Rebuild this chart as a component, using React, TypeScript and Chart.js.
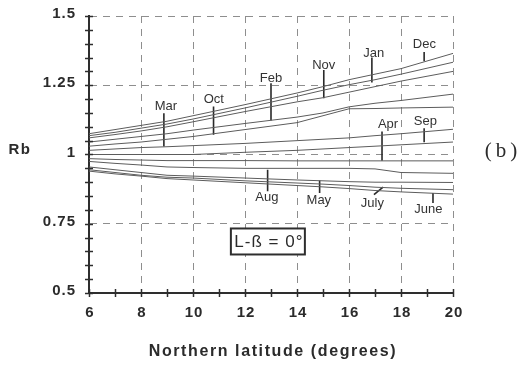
import React, { useEffect, useRef } from "react";
import { Chart, registerables } from "chart.js";

Chart.register(...registerables);

// Northern latitude (degrees) at which each curve is read
const latitude = [6, 7, 8, 9, 10, 12, 14, 15, 16, 17, 18, 20];

// Month curves (Rb) for L - beta = 0
const months = ["Dec", "Jan", "Nov", "Feb", "Oct", "Mar", "Sep", "Apr", "Aug", "May", "July", "June"];
const rbDec = [1.075, 1.09, 1.105, 1.12, 1.14, 1.18, 1.222, 1.245, 1.27, 1.29, 1.31, 1.365];
const rbJan = [1.068, 1.08, 1.095, 1.11, 1.128, 1.168, 1.21, 1.232, 1.252, 1.27, 1.29, 1.333];
const rbNov = [1.06, 1.072, 1.085, 1.1, 1.118, 1.155, 1.19, 1.205, 1.225, 1.245, 1.265, 1.3];
const rbFeb = [1.045, 1.055, 1.065, 1.075, 1.088, 1.112, 1.135, 1.15, 1.172, 1.185, 1.195, 1.218];
const rbOct = [1.03, 1.038, 1.045, 1.055, 1.065, 1.09, 1.115, 1.14, 1.165, 1.166, 1.168, 1.171];
const rbMar = [1.015, 1.02, 1.025, 1.028, 1.032, 1.04, 1.05, 1.055, 1.06, 1.068, 1.075, 1.091];
const rbSep = [1.0, 1.0, 1.0, 1.0, 1.0, 1.008, 1.015, 1.02, 1.025, 1.03, 1.035, 1.045];
const rbApr = [0.985, 0.982, 0.98, 0.978, 0.978, 0.978, 0.977, 0.977, 0.977, 0.977, 0.977, 0.977];
const rbAug = [0.975, 0.968, 0.962, 0.955, 0.953, 0.95, 0.95, 0.95, 0.95, 0.948, 0.935, 0.932];
const rbMay = [0.955, 0.945, 0.935, 0.925, 0.922, 0.915, 0.908, 0.905, 0.902, 0.9, 0.9, 0.899];
const rbJuly = [0.945, 0.935, 0.925, 0.918, 0.915, 0.905, 0.897, 0.893, 0.888, 0.882, 0.878, 0.873];
const rbJune = [0.94, 0.93, 0.922, 0.913, 0.908, 0.898, 0.888, 0.883, 0.877, 0.87, 0.865, 0.857];

// Month label anchors (data coordinates)
const labelX = [18.9, 16.95, 15.03, 13.0, 10.8, 8.96, 18.94, 17.5, 12.84, 14.84, 16.9, 19.05];
const labelY = [1.397, 1.364, 1.323, 1.276, 1.2, 1.175, 1.121, 1.11, 0.845, 0.833, 0.822, 0.8];

// Leader lines (data coordinates)
const leaderX1 = [18.89, 16.88, 15.03, 13.0, 10.79, 8.88, 18.89, 17.27, 12.87, 14.87, 16.96, 19.23];
const leaderY1 = [1.37, 1.35, 1.305, 1.257, 1.173, 1.149, 1.095, 1.083, 0.945, 0.906, 0.855, 0.861];
const leaderX2 = [18.89, 16.88, 15.03, 13.0, 10.79, 8.88, 18.89, 17.27, 12.87, 14.87, 17.31, 19.23];
const leaderY2 = [1.337, 1.26, 1.203, 1.123, 1.071, 1.029, 1.044, 0.977, 0.867, 0.861, 0.882, 0.825];

// Annotation box
const boxText = "L-ß = 0°";
const boxX = 12.88;
const boxY = 0.686;

const xTitle = "Northern latitude (degrees)";
const yTitle = "Rb";
const panelTag = "(b)";

const xMin = 6, xMax = 20, xStep = 2, xMinor = 1;
const yMin = 0.5, yMax = 1.5, yStep = 0.25, yMinor = 0.05;

export default function App() {
  const ref = useRef<HTMLCanvasElement>(null);

  useEffect(() => {
    const canvas = ref.current!;
    const seriesValues = [rbDec, rbJan, rbNov, rbFeb, rbOct, rbMar, rbSep, rbApr, rbAug, rbMay, rbJuly, rbJune];
    const datasets: any[] = [
      ...seriesValues.map((vals, i) => ({
        label: months[i],
        data: latitude.map((x, j) => ({ x, y: vals[j] })),
        borderColor: "#5c5c5c",
        borderWidth: 1,
        pointRadius: 0,
        tension: 0,
        fill: false,
      })),
      ...months.map((m, i) => ({
        label: m + " leader",
        data: [
          { x: leaderX1[i], y: leaderY1[i] },
          { x: leaderX2[i], y: leaderY2[i] },
        ],
        borderColor: "#2a2a2a",
        borderWidth: 1.6,
        pointRadius: 0,
        fill: false,
      })),
    ];

    const decor = {
      id: "decor",
      afterDraw(chart: any) {
        const { ctx, chartArea: ca, scales } = chart;
        const sx = scales.x;
        const sy = scales.y;
        ctx.save();
        // crossing ticks on the axes
        ctx.strokeStyle = "#2e2e2e";
        ctx.lineWidth = 1.5;
        for (let v = yMin; v <= yMax + 1e-9; v += yMinor) {
          const py = Math.round(sy.getPixelForValue(v)) + 0.5;
          ctx.beginPath();
          ctx.moveTo(ca.left - 4, py);
          ctx.lineTo(ca.left + 4, py);
          ctx.stroke();
        }
        for (let v = xMin; v <= xMax + 1e-9; v += xMinor) {
          const px = Math.round(sx.getPixelForValue(v)) + 0.5;
          ctx.beginPath();
          ctx.moveTo(px, ca.bottom - 4);
          ctx.lineTo(px, ca.bottom + 4);
          ctx.stroke();
        }
        // tick labels
        ctx.fillStyle = "#2b2b2b";
        ctx.font = 'bold 15px "Liberation Sans", Arial, sans-serif';
        (ctx as any).letterSpacing = "1px";
        ctx.textBaseline = "middle";
        ctx.textAlign = "right";
        sy.ticks.forEach((t: any) => {
          ctx.fillText(String(t.value), ca.left - 13, sy.getPixelForValue(t.value) - 2);
        });
        ctx.textAlign = "center";
        sx.ticks.forEach((t: any) => {
          ctx.fillText(String(t.value), sx.getPixelForValue(t.value) + 1, ca.bottom + 20);
        });
        // axis titles
        ctx.font = 'bold 16px "Liberation Sans", Arial, sans-serif';
        (ctx as any).letterSpacing = "1.6px";
        ctx.fillText(xTitle, (ca.left + ca.right) / 2 + 2, ca.bottom + 59);
        (ctx as any).letterSpacing = "1.5px";
        ctx.font = 'bold 15px "Liberation Sans", Arial, sans-serif';
        ctx.fillText(yTitle, 20, sy.getPixelForValue(1) - 5);
        // panel tag
        ctx.font = '21px "Liberation Serif", "Times New Roman", serif';
        (ctx as any).letterSpacing = "4px";
        ctx.fillText(panelTag, ca.right + 50, sy.getPixelForValue(1) - 3);
        // month labels
        (ctx as any).letterSpacing = "0px";
        ctx.font = '13px "Liberation Sans", Arial, sans-serif';
        ctx.fillStyle = "#333";
        months.forEach((m, i) => {
          ctx.fillText(m, sx.getPixelForValue(labelX[i]), sy.getPixelForValue(labelY[i]));
        });
        // annotation box
        const bx = sx.getPixelForValue(boxX);
        const by = sy.getPixelForValue(boxY);
        ctx.strokeStyle = "#2e2e2e";
        ctx.lineWidth = 2;
        ctx.fillStyle = "#fff";
        ctx.fillRect(bx - 37, by - 13, 74, 26);
        ctx.strokeRect(bx - 37, by - 13, 74, 26);
        ctx.fillStyle = "#2b2b2b";
        ctx.font = '17px "Liberation Sans", Arial, sans-serif';
        (ctx as any).letterSpacing = "1px";
        ctx.fillText(boxText, bx + 1, by + 1);
        ctx.restore();
      },
    };

    const gridCommon = {
      color: "#8e8e8e",
      lineWidth: 1,
      drawTicks: false,
    };
    const borderCommon = {
      display: true,
      color: "#2e2e2e",
      width: 2,
      dash: [7, 6],
    };

    const chart = new Chart(canvas, {
      type: "line",
      data: { datasets },
      options: {
        animation: false,
        responsive: false,
        layout: { padding: { left: 89, right: 71, top: 16, bottom: 75 } },
        plugins: {
          legend: { display: false },
          tooltip: { enabled: false },
        },
        scales: {
          x: {
            type: "linear",
            min: xMin,
            max: xMax,
            ticks: { stepSize: xStep, display: false },
            grid: gridCommon,
            border: borderCommon,
            afterFit: (s: any) => {
              s.height = 0;
            },
          },
          y: {
            type: "linear",
            min: yMin,
            max: yMax,
            ticks: { stepSize: yStep, display: false },
            grid: gridCommon,
            border: borderCommon,
            afterFit: (s: any) => {
              s.width = 0;
            },
          },
        },
      } as any,
      plugins: [decor],
    });
    return () => chart.destroy();
  }, []);

  return (
    <div style={{ position: "absolute", left: 0, top: 0, width: 524, height: 368, background: "#fff" }}>
      <canvas ref={ref} width={524} height={368} style={{ display: "block" }} />
    </div>
  );
}
